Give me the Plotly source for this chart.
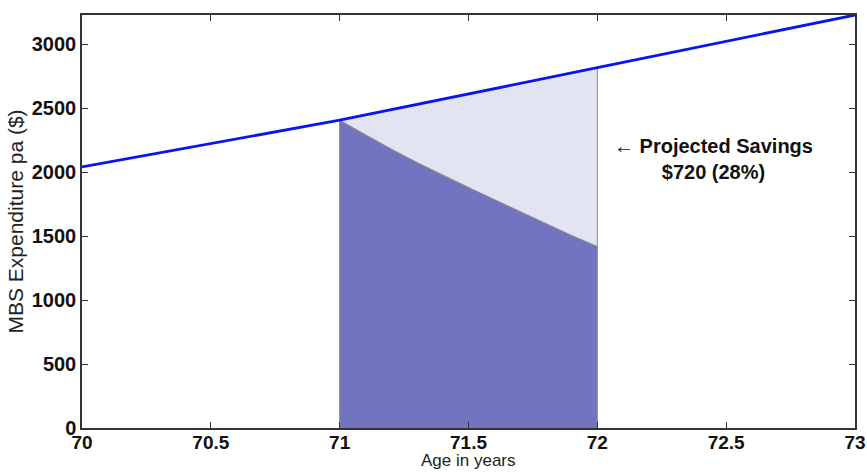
import plotly.graph_objects as go

# Expenditure trend line
age_line = [70, 71, 72, 73]
spend_line = [2040, 2405, 2815, 3227]

# Projected (reduced) expenditure curve between 71 and 72
age_curve = [71.0, 71.1, 71.2, 71.3, 71.4, 71.5, 71.6, 71.7, 71.8, 71.9, 72.0]
spend_curve = [2405, 2290, 2180, 2075, 1975, 1880, 1785, 1690, 1595, 1505, 1418]

x_ticks = [70, 70.5, 71, 71.5, 72, 72.5, 73]
x_tick_text = ["70", "70.5", "71", "71.5", "72", "72.5", "73"]
y_ticks = [0, 500, 1000, 1500, 2000, 2500, 3000]
y_tick_text = ["0", "500", "1000", "1500", "2000", "2500", "3000"]

annotation_text = "<b>← Projected Savings<br>$720 (28%)</b>"
x_title = "Age in years"
y_title = "MBS Expenditure pa ($)"

dark_fill = "#7274c0"
light_fill = "#e3e4f2"
edge = "#8a8a8a"
FONT = "Liberation Sans, Arial"

W, H = 867, 472
M = dict(l=82, r=12, t=15, b=44)

fig = go.Figure()

# dark region under the projected curve
dark_x = [age_curve[0]] + age_curve + [age_curve[-1]]
dark_y = [0] + spend_curve + [0]
fig.add_trace(go.Scatter(x=dark_x, y=dark_y, mode="lines", fill="toself",
                         fillcolor=dark_fill, line=dict(color=edge, width=1),
                         hoverinfo="skip", showlegend=False))

# light region between the curve and the trend line
top_x = [a for a in age_line if age_curve[0] <= a <= age_curve[-1]]
top_y = [s for a, s in zip(age_line, spend_line) if age_curve[0] <= a <= age_curve[-1]]
light_x = age_curve + top_x[::-1]
light_y = spend_curve + top_y[::-1]
fig.add_trace(go.Scatter(x=light_x, y=light_y, mode="lines", fill="toself",
                         fillcolor=light_fill, line=dict(color=edge, width=1),
                         hoverinfo="skip", showlegend=False))

# trend line
fig.add_trace(go.Scatter(x=age_line, y=spend_line, mode="lines",
                         line=dict(color="#0a14f0", width=2.8),
                         hoverinfo="skip", showlegend=False))

fig.add_annotation(x=72.45, y=2105, xref="x", yref="y", text=annotation_text,
                   showarrow=False, align="center",
                   font=dict(family=FONT, size=20, color="#111111"))

# x-axis title placed at the very bottom of the figure
plot_h = H - M["t"] - M["b"]
fig.add_annotation(x=0.5, y=-M["b"] / plot_h, xref="paper", yref="paper",
                   xanchor="center", yanchor="bottom", text=x_title, showarrow=False,
                   font=dict(family=FONT, size=17, color="#222222"))

axis_common = dict(showgrid=False, zeroline=False, showline=True, linecolor="#333333",
                   linewidth=1.5, mirror="ticks", ticks="inside", ticklen=6,
                   tickcolor="#333333", tickwidth=1.2, automargin=False)

fig.update_xaxes(range=[70, 73], tickvals=x_ticks, ticktext=x_tick_text,
                 tickfont=dict(family=FONT, size=19, color="#111111", weight="bold"),
                 ticklabelstandoff=-4,
                 **axis_common)
fig.update_yaxes(range=[0, 3227], tickvals=y_ticks, ticktext=y_tick_text,
                 tickfont=dict(family=FONT, size=20, color="#111111", weight="bold"),
                 title=dict(text=y_title, standoff=2,
                            font=dict(family=FONT, size=21, color="#222222")),
                 **axis_common)

fig.update_layout(width=W, height=H, margin=M,
                  plot_bgcolor="white", paper_bgcolor="white")

fig.write_html("out.html", config={"displayModeBar": False},
               post_script="document.body.style.margin='0';document.body.style.overflow='hidden';")
